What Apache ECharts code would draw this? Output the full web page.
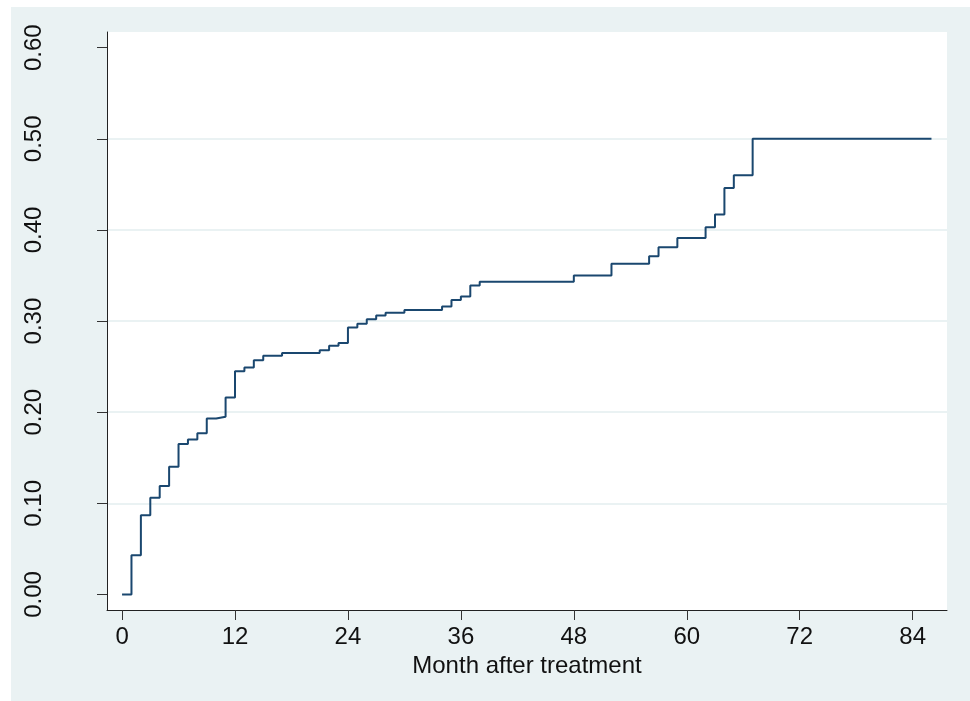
<!DOCTYPE html>
<html>
<head>
<meta charset="utf-8">
<script src="https://cdn.jsdelivr.net/npm/echarts@6/dist/echarts.min.js"></script>
<style>
  html, body { margin: 0; padding: 0; background: #ffffff; }
  #bg { position: absolute; left: 11px; top: 7px; width: 959px; height: 694px; background: #EAF2F3; }
  #chart { position: absolute; left: 0; top: 0; width: 970px; height: 701px; }
</style>
</head>
<body>
<div id="bg"></div>
<div id="chart"></div>
<script>
// Step-function times (months) and cumulative incidence values
const months = [0, 1, 2, 3, 4, 5, 6, 7, 8, 9, 10, 11, 12, 13, 14, 15, 17, 21, 22, 23, 24, 25, 26, 27, 28, 30, 34, 35, 36, 37, 38, 48, 52, 56, 57, 59, 62, 63, 64, 65, 67, 86];
const incidence = [0, 0.043, 0.087, 0.106, 0.119, 0.140, 0.165, 0.170, 0.177, 0.193, 0.195, 0.216, 0.245, 0.249, 0.257, 0.262, 0.265, 0.268, 0.273, 0.276, 0.293, 0.297, 0.302, 0.306, 0.309, 0.312, 0.316, 0.323, 0.327, 0.339, 0.343, 0.350, 0.363, 0.371, 0.381, 0.391, 0.403, 0.417, 0.446, 0.460, 0.500, 0.500];
const xTicks = [0, 12, 24, 36, 48, 60, 72, 84];
const yTicks = [0, 0.1, 0.2, 0.3, 0.4, 0.5, 0.6];
const xTitle = 'Month after treatment';

const FONT = '"Liberation Sans", Arial, Helvetica, sans-serif';
const chart = echarts.init(document.getElementById('chart'), null, { renderer: 'canvas' });

chart.setOption({
  backgroundColor: 'transparent',
  animation: false,
  grid: {
    left: 107, right: 23, top: 32, bottom: 91,
    show: true, backgroundColor: '#ffffff', borderWidth: 0
  },
  xAxis: {
    type: 'value',
    min: -1.6, max: 87.65,
    splitLine: { show: false },
    axisLine: { show: true, onZero: false, lineStyle: { color: '#222', width: 1 } },
    axisTick: { show: true, length: 10, customValues: xTicks, lineStyle: { color: '#333', width: 1 } },
    axisLabel: { customValues: xTicks, fontFamily: FONT, fontSize: 24, color: '#111', margin: 15 },
    name: xTitle, nameLocation: 'middle', nameGap: 36,
    nameTextStyle: { fontFamily: FONT, fontSize: 24, color: '#111' }
  },
  yAxis: {
    type: 'value',
    min: -0.0171, max: 0.6172,
    splitNumber: 6,
    splitLine: { show: true, showMinLine: false, showMaxLine: false, lineStyle: { color: '#EAF2F3', width: 2 } },
    axisLine: { show: true, onZero: false, lineStyle: { color: '#222', width: 1 } },
    axisTick: { show: true, length: 10, customValues: yTicks, lineStyle: { color: '#333', width: 1 } },
    axisLabel: {
      customValues: yTicks, rotate: 90, margin: 61,
      fontFamily: FONT, fontSize: 24, color: '#111',
      formatter: v => Number(v).toFixed(2)
    }
  },
  series: [{
    type: 'line',
    step: 'end',
    showSymbol: false,
    symbol: 'none',
    lineStyle: { color: '#1A476F', width: 2 },
    data: months.map((m, i) => [m, incidence[i]])
  }]
});
</script>
</body>
</html>
